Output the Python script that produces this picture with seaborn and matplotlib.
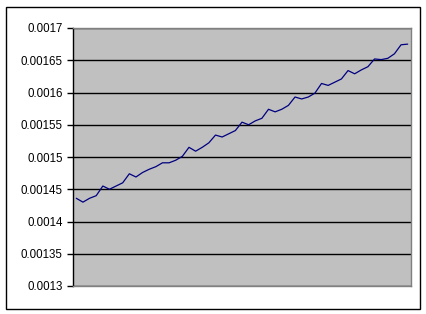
import matplotlib
matplotlib.use("Agg")
import matplotlib.pyplot as plt
import matplotlib.patches as mpatches
import seaborn as sns
import numpy as np
import pandas as pd

values = [0.001436, 0.001430, 0.001436, 0.001440, 0.001455, 0.001450, 0.001455,
          0.001460, 0.001474, 0.001469, 0.001476, 0.001481, 0.001485, 0.001491,
          0.001491, 0.001495, 0.001501, 0.001515, 0.001509, 0.001515, 0.001522,
          0.001534, 0.001531, 0.001536, 0.001541, 0.001554, 0.001550, 0.001556,
          0.001560, 0.001574, 0.001570, 0.001574, 0.001580, 0.001593, 0.001590,
          0.001593, 0.001599, 0.001614, 0.001611, 0.001616, 0.001621, 0.001634,
          0.001629, 0.001635, 0.001640, 0.001652, 0.001651, 0.001653, 0.001660,
          0.001674, 0.001675]
points = list(range(len(values)))
y_ticks = [0.0013, 0.00135, 0.0014, 0.00145, 0.0015, 0.00155, 0.0016, 0.00165, 0.0017]
y_labels = ["0.0013", "0.00135", "0.0014", "0.00145", "0.0015", "0.00155", "0.0016", "0.00165", "0.0017"]

df = pd.DataFrame({"point": points, "value": values})

sns.set_style("white")
plt.rcParams["font.family"] = ["Liberation Sans", "DejaVu Sans"]

W, H = 427, 314
fig = plt.figure(figsize=(W / 100, H / 100), dpi=100)
fig.patch.set_facecolor("white")
ax = fig.add_axes([73 / W, 1 - 286 / H, (411 - 73) / W, (286 - 28) / H])
ax.set_facecolor("#C0C0C0")

sns.lineplot(data=df, x="point", y="value", ax=ax, color="#000080", linewidth=0.9)

ax.set_xlim(-0.5, len(values) - 0.5)
ax.set_ylim(0.0013, 0.0017)
ax.set_yticks(y_ticks)
ax.set_yticklabels(y_labels, fontsize=8.3, color="black")
ax.set_xticks([])
ax.set_xlabel("")
ax.set_ylabel("")
ax.yaxis.grid(True, color="black", linewidth=1.0)
ax.set_axisbelow(True)
ax.tick_params(axis="y", direction="out", length=4.5, width=1, color="black", pad=3, left=True)
for side in ["top", "right", "bottom"]:
    ax.spines[side].set_visible(True)
    ax.spines[side].set_color("#808080")
    ax.spines[side].set_linewidth(1.0)
ax.spines["left"].set_color("black")
ax.spines["left"].set_linewidth(1.0)

border = mpatches.Rectangle((6.5 / W, 1 - 308.5 / H), (420 - 6.5) / W, (308.5 - 6.5) / H,
                            transform=fig.transFigure, fill=False, edgecolor="black", linewidth=1.0)
fig.patches.append(border)

fig.savefig("out.png", dpi=100)
